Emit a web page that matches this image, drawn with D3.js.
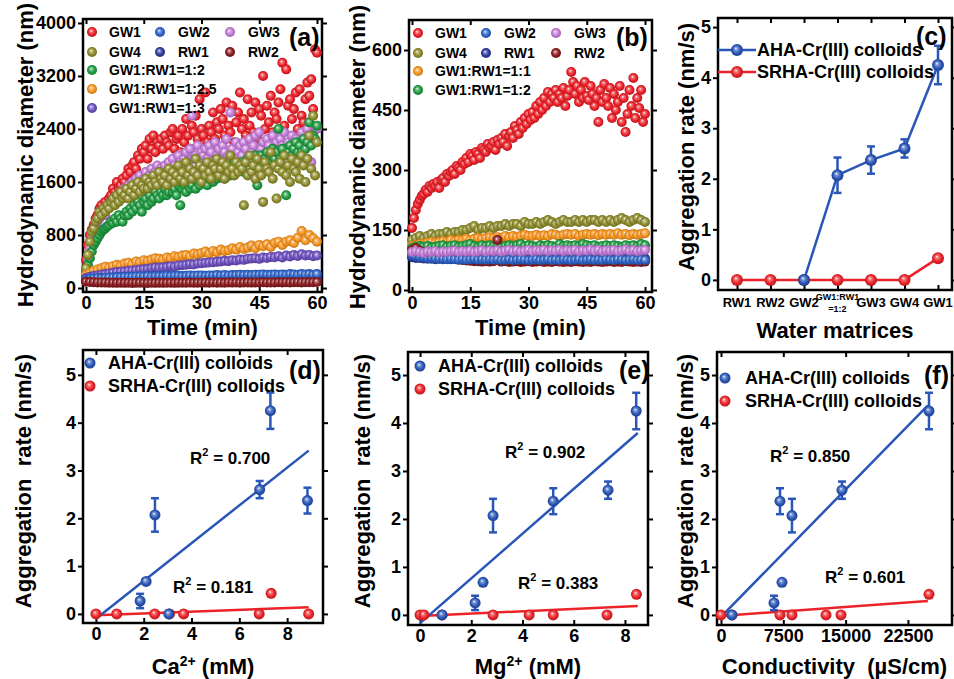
<!DOCTYPE html>
<html><head><meta charset="utf-8"><title>Cr(III) colloid aggregation</title>
<script src="https://cdn.jsdelivr.net/npm/d3@7"></script>
<style>
body{margin:0;background:#fff}
text{font-family:"Liberation Sans",Arial,sans-serif;font-weight:bold;fill:#000}
</style></head><body>
<script>
// ---------- data ----------
// time grids (min)
const tHalf = d3.range(0, 60.001, 0.5);
const tMin = d3.range(0, 61, 1);

// (a) hydrodynamic diameter, nm
const aGW1 = [420,650,800,880,950,1050,1100,1200,1250,1150,1300,
 1250,1350,1400,1500,1450,1600,1500,1550,1650,1600,
 1700,1800,1750,1850,1900,1800,2000,1950,2100,2050,
 2150,1950,2250,2100,2300,2050,2200,2150,2250,2100,
 2300,2200,2150,2350,2400,2100,2250,2300,2050,2400,
 2200,2550,2300,2100,2450,2350,2600,2250,2850,2400,
 2300,2950,2200,2450,2350,2650,2250,2500,2400,2700,
 2550,2300,2800,2450,2350,2750,2200,2500,2650,2950,
 2400,2550,2300,2850,2450,2650,2350,2800,2250,2700,
 2600,3200,2400,2750,2500,2900,2350,2650,2550,2800,
 3000,3400,2450,3300,2750,2850,2550,2700,2950,2400,
 3000,2600,2500,2850,3100,2900,3150,2700,3600,3550];
const aGW4 = [300,500,700,850,900,1000,1050,1150,1100,1200,1150,
 1250,1200,1300,1350,1250,1400,1300,1450,1350,1400,
 1500,1350,1450,1550,1400,1500,1600,1450,1550,1500,
 1650,1500,1600,1550,1700,1600,1550,1750,1650,1600,
 1700,1550,1800,1650,1750,1600,1700,1850,1650,1750,
 1600,1900,1700,1800,1650,1750,1950,1700,1850,1600,
 1800,1700,1900,1750,1650,1850,1800,1950,1700,1800,
 1900,1650,1850,1750,2000,1800,1700,1900,1750,1850,
 1800,1250,1900,1700,2000,1750,1850,1650,1950,1800,
 1700,1300,1900,1800,1750,2050,1650,1850,1350,1800,
 1900,1750,2000,1700,1850,1600,1950,1800,1750,1900,
 1650,2000,1850,1600,1950,2300,1800,2600,1700,2200];
const aGW3 = [280,450,600,750,850,950,1000,1050,1100,1150,1100,
 1200,1250,1300,1250,1350,1400,1350,1450,1400,1500,
 1450,1550,1500,1600,1500,1650,1550,1700,1600,1650,
 1750,1600,1700,1800,1650,1750,1850,1700,1800,1750,
 1850,1750,1900,1800,1950,1850,1800,2000,1900,1850,
 1950,2050,1900,2100,2600,1950,2000,2150,1900,2050,
 2000,2100,1950,2150,2050,1900,2200,2000,2100,1950,
 2150,2050,2250,2000,2650,2100,1900,2200,2050,2150,
 2000,2200,2100,1950,2250,2050,2150,2300,2000,2350,
 2100,2200,2000,2250,2150,2050,2300,2100,2200,2050,
 2250,2150,2350,2000,2200,2100,2300,2050,2250,2150,
 2200,2350,2100,2250,2400,2150,1900,2300,2200,2400];
const aMix12 = [250,350,450,550,650,700,750,800,850,880,900,
 930,950,1000,980,1050,1000,1100,1050,1000,1100,
 1150,1100,1200,1150,1250,1200,1300,1250,1150,1300,
 1350,1250,1400,1300,1350,1450,1400,1350,1450,1400,
 1500,1400,1450,1550,1450,1500,1400,1550,1250,1500,
 1550,1450,1600,1500,1550,1650,1500,1600,1550,1650,
 1600,1700,1550,1650,1750,1600,1700,1650,1750,1700,
 1800,1650,1750,1850,1700,1800,1900,1750,1850,1800,
 1900,1750,1850,1950,1800,1900,1850,2000,1550,1900,
 2000,1850,1950,2050,1900,2000,2100,1950,2050,2400,
 1950,2100,2000,1400,2050,2150,2000,2100,2200,2050,
 2150,2050,2250,2100,2200,2500,2150,2300,2250,2450];
const aMix25 = [200,230,260,280,300,320,310,330,350,340,370,
 380,360,400,390,420,410,430,450,440,430,
 460,450,480,470,490,500,480,520,510,530,
 550,520,560,540,580,560,570,600,580,620,
 590,610,640,600,650,630,660,620,680,700,
 650,700,720,680,760,860,720,800,750,700];
const aMix3 = [150,170,180,190,200,210,220,230,240,245,250,
 260,265,270,280,285,290,300,310,305,315,
 320,330,325,340,345,350,360,355,370,375,
 380,385,390,395,400,410,405,420,415,430,
 425,440,445,450,440,460,455,470,465,480,
 460,490,475,500,485,510,490,500,480,490];
const aGW2 = [130,140,145,150,150,155,160,160,165,165,170,
 170,170,175,175,175,180,175,180,180,180,
 185,180,185,185,180,185,190,185,190,190,
 185,190,190,195,190,195,190,195,195,200,
 195,200,195,200,200,205,200,200,205,200,
 205,200,210,205,200,210,205,210,200,210];
const aRW1 = [120,125,130,128,130,132,130,128,132,130,134,
 130,132,135,130,133,135,132,130,134,136,
 132,135,133,136,134,132,136,135,133,137,
 135,133,136,138,134,136,137,135,138,136,
 134,137,139,136,138,135,137,140,136,138,
 137,139,136,140,138,137,139,141,138,140];
const aRW2 = [95,90,88,85,84,82,80,80,78,80,78,
 79,77,78,80,78,77,79,78,80,78,
 79,80,78,81,79,80,82,79,81,80,
 82,80,83,81,82,80,83,82,84,81,
 83,85,82,84,83,86,84,85,83,86,
 85,87,84,86,88,85,87,86,88,90];

// (b) hydrodynamic diameter, nm
const bGW1 = [155,180,200,215,225,235,240,250,245,260,255,
 265,260,270,255,275,280,270,290,285,295,
 300,290,310,305,300,320,315,330,320,340,
 335,325,345,340,330,355,350,345,365,355,
 360,370,350,375,365,380,370,390,360,385,
 395,380,410,400,390,420,405,430,415,440,
 425,445,430,460,440,470,450,480,460,495,
 470,490,480,500,470,490,480,505,460,485,
 500,545,520,490,510,470,500,480,520,485,
 475,510,490,460,480,420,500,470,515,480,
 460,505,430,490,450,470,510,420,480,395,
 440,500,460,530,430,480,455,500,420,440];
const bGW4 = [125,130,135,130,135,140,135,140,140,145,140,
 145,145,150,150,155,160,150,155,155,160,
 155,160,160,165,160,165,165,160,170,165,
 165,170,165,170,175,170,165,170,175,170,
 170,175,170,175,170,175,175,170,175,170,
 175,170,175,180,175,170,175,180,175,170];
const bMix11 = [110,112,115,115,118,120,118,120,122,120,125,
 122,125,125,128,125,128,130,128,130,132,
 130,132,130,135,132,135,133,135,138,135,
 135,138,135,137,135,140,138,135,138,140,
 138,140,135,138,140,138,140,137,140,138,
 140,138,142,138,140,137,140,138,140,142];
const bMix12 = [105,108,110,108,110,106,108,110,112,108,110,
 112,108,110,112,115,110,108,112,110,112,
 110,112,108,110,112,110,112,115,110,112,
 110,108,112,110,112,110,108,115,110,112,
 110,112,110,115,112,110,112,108,110,112,
 110,112,110,108,112,110,112,110,115,112];
const bGW3 = [95,97,95,93,96,95,97,94,96,95,97,
 98,95,97,96,98,95,97,99,96,98,
 97,99,96,98,100,97,99,96,98,100,
 97,99,98,100,97,99,98,100,97,99,
 98,100,97,99,98,101,98,100,97,99,
 98,100,97,99,101,98,100,97,99,100];
const bGW2 = [88,85,83,82,80,80,79,78,78,77,78,
 77,76,77,76,77,78,76,77,76,77,
 76,77,75,76,77,75,76,77,76,75,
 76,77,75,76,77,75,76,75,77,76,
 75,76,77,75,76,77,75,76,75,77,
 76,75,77,76,75,76,77,75,76,75];
const bRW1 = [82,80,80,79,78,78,77,78,77,78,77,
 78,77,78,79,78,77,78,77,78,79,
 78,77,78,79,78,77,78,79,78,77,
 78,79,78,77,78,79,78,77,78,79,
 78,77,78,79,78,77,78,79,78,77,
 78,79,78,77,78,79,78,77,78,79];
const bRW2 = [100,105,98,95,92,90,88,85,84,82,80,
 78,76,75,74,73,72,72,71,72,71,
 72,125,71,72,70,71,72,70,71,72,
 70,71,72,70,71,70,72,71,70,71,
 70,72,71,70,71,70,72,71,70,71,
 72,70,71,70,72,71,70,71,70,71];

// (c) aggregation rate by water matrix, nm/s
const matrices = ['RW1','RW2','GW2','GW1:RW1=1:2','GW3','GW4','GW1'];
const cAHA = [null,null,0,2.07,2.37,2.6,4.25];
const cAHAerr = [0,0,0.03,0.35,0.27,0.18,0.38];
const cSRHA = [0,0,0,0,0,0,0.43];
const cSRHAerr = [0.03,0.03,0.03,0.03,0.03,0.03,0.07];

// (d) vs Ca2+ (mM)
const caAHAx = [1.85,2.1,2.47,3.05,6.85,7.3,8.85];
const caAHAy = [0.27,0.68,2.07,0,2.6,4.25,2.37];
const caAHAe = [0.15,0.04,0.35,0.05,0.18,0.38,0.27];
const caSRx = [0,0.87,2.46,3.08,3.67,6.83,7.33,8.9];
const caSRy = [0,0,0,0,0,0,0.43,0];
const caFit = {AHA:[-0.1,0.395,0,8.9], SRHA:[-0.03,0.019,0,8.9]};   // intercept, slope, x0, x1

// (e) vs Mg2+ (mM)
const mgAHAx = [0.86,2.15,2.46,2.85,5.2,7.34,8.44];
const mgAHAy = [0,0.25,0.68,2.07,2.37,2.6,4.25];
const mgAHAe = [0.05,0.15,0.04,0.35,0.27,0.18,0.38];
const mgSRx = [0,0.15,0.86,2.85,4.26,5.2,7.3,8.45];
const mgSRy = [0,0,0,0,0,0,0,0.43];
const mgFit = {AHA:[-0.17,0.466,0,8.5], SRHA:[-0.02,0.024,0,8.5]};

// (f) vs conductivity (uS/cm)
const ecAHAx = [1320,6380,7100,7340,8540,14560,25030];
const ecAHAy = [0,0.25,2.37,0.68,2.07,2.6,4.25];
const ecAHAe = [0.05,0.15,0.27,0.04,0.35,0.18,0.38];
const ecSRx = [0,1320,7100,8540,12640,14440,25030];
const ecSRy = [0,0,0,0,0,0,0.43];
const ecFit = {AHA:[-0.04,0.000177,0,24900], SRHA:[-0.02,0.0000125,0,24900]};

const R2 = {d:['0.700','0.181'], e:['0.902','0.383'], f:['0.850','0.601']};

// ---------- setup ----------
const col = {GW1:'#ec1f27', GW2:'#2c63c9', GW3:'#c37ad7', GW4:'#8c8b2a', RW1:'#2d3a9e',
  RW2:'#8b1a1e', mix12:'#1d9a3f', mix25:'#f7931d', mix3:'#6d4fc0', mix11:'#f7931d',
  AHA:'#2a56b8', SRHA:'#ec2328'};

const svg = d3.select('body').append('svg').attr('width', 954).attr('height', 679);
const defs = svg.append('defs');
Object.entries(col).forEach(([k, c]) => {
  const g = defs.append('radialGradient').attr('id', 'sp-' + k)
    .attr('cx', '50%').attr('cy', '50%').attr('r', '55%').attr('fx', '40%').attr('fy', '36%');
  g.append('stop').attr('offset', '0%').attr('stop-color', '#fff');
  g.append('stop').attr('offset', '22%').attr('stop-color', d3.interpolateRgb(c, '#fff')(0.4));
  g.append('stop').attr('offset', '62%').attr('stop-color', c);
  g.append('stop').attr('offset', '100%').attr('stop-color', d3.color(c).darker(0.9));
});

function styleTicks(sel, size) {
  sel.select('.domain').remove();
  sel.selectAll('line').attr('stroke', '#000').attr('stroke-width', 2);
  sel.selectAll('text').attr('font-size', size).attr('font-family', null).attr('fill', '#000');
}

const fmt = d3.format('d');
function panel(p) {
  const x = p.xScale || d3.scaleLinear().domain(p.xd).range([p.l, p.r]);
  const y = d3.scaleLinear().domain(p.yd).range([p.b, p.t]);
  const g = svg.append('g');
  g.append('g').attr('transform', `translate(${p.l},0)`)
    .call(d3.axisLeft(y).tickValues(p.yt).tickSize(5).tickPadding(2).tickSizeOuter(0).tickFormat(fmt))
    .call(styleTicks, p.fs || 18);
  g.append('g').attr('transform', `translate(${p.r},0)`)
    .call(d3.axisLeft(y).tickValues(p.yt).tickSize(-5).tickFormat('').tickSizeOuter(0))
    .call(styleTicks, 0);
  const bx = d3.axisBottom(x).tickSize(-5).tickPadding(4).tickSizeOuter(0);
  if (p.xt) bx.tickValues(p.xt).tickFormat(fmt);
  if (p.noXLabels) bx.tickFormat('');
  g.append('g').attr('transform', `translate(0,${p.b})`).call(bx).call(styleTicks, p.fs || 18);
  const tx = d3.axisBottom(x).tickSize(5).tickFormat('').tickSizeOuter(0);
  if (p.xt) tx.tickValues(p.xt);
  g.append('g').attr('transform', `translate(0,${p.t})`).call(tx).call(styleTicks, 0);
  g.append('rect').attr('x', p.l).attr('y', p.t).attr('width', p.r - p.l).attr('height', p.b - p.t)
    .attr('fill', 'none').attr('stroke', '#000').attr('stroke-width', 2.5);
  const plot = svg.append('g');
  // titles
  svg.append('text').attr('x', (p.l + p.r) / 2 + (p.xtdx || 0)).attr('y', p.xty)
    .attr('text-anchor', 'middle').attr('font-size', 22).html(p.xtitle);
  svg.append('text').attr('transform', `translate(${p.ytx},${p.yty}) rotate(-90)`)
    .attr('text-anchor', 'middle').attr('dominant-baseline', 'central').attr('font-size', 22)
    .attr('xml:space', 'preserve').text(p.ytitle);
  svg.append('text').attr('x', p.labx).attr('y', p.laby).attr('dominant-baseline', 'central')
    .attr('font-size', 25).text(p.label);
  return {x, y, g: plot};
}

// ---------- (a) ----------
const A = panel({l: 83, r: 322, t: 19, b: 292, xd: [-0.78, 61.3], yd: [-60, 4060],
  xt: [0, 15, 30, 45, 60], yt: [0, 800, 1600, 2400, 3200, 4000],
  xtitle: 'Time (min)', xty: 335, ytitle: 'Hydrodynamic diameter (nm)', ytx: 25, yty: 155,
  label: '(a)', labx: 289, laby: 37});
const B = panel({l: 409, r: 652, t: 20, b: 292, xd: [-0.77, 61.8], yd: [-5, 675],
  xt: [0, 15, 30, 45, 60], yt: [0, 150, 300, 450, 600],
  xtitle: 'Time (min)', xty: 335, ytitle: 'Hydrodynamic diameter (nm)', ytx: 357, yty: 157,
  label: '(b)', labx: 616, laby: 37});

function scatter(P, list) {
  list.forEach(s => {
    const t = s.v.length === tHalf.length ? tHalf : tMin;
    P.g.append('g').selectAll('circle').data(s.v).join('circle')
      .attr('cx', (d, i) => P.x(t[i])).attr('cy', d => P.y(d)).attr('r', 5)
      .attr('fill', `url(#sp-${s.k})`);
  });
}
function dlsLegend(P, items, l, t) {
  const cx = [9, 77, 147], tx = [26, 95, 165], ry = [13, 33, 51, 70, 89];
  items.forEach((s, i) => {
    const c = i < 6 ? i % 3 : 0, r = i < 6 ? Math.floor(i / 3) : i - 4;
    P.g.append('circle').attr('cx', l + cx[c]).attr('cy', t + ry[r]).attr('r', 5)
      .attr('fill', `url(#sp-${s.k})`);
    P.g.append('text').attr('x', l + tx[c]).attr('y', t + ry[r]).attr('dy', '0.36em')
      .attr('font-size', 14).text(s.name);
  });
}
scatter(A, [{k: 'GW1', v: aGW1}, {k: 'GW3', v: aGW3}, {k: 'mix12', v: aMix12}, {k: 'GW4', v: aGW4},
  {k: 'mix25', v: aMix25}, {k: 'mix3', v: aMix3}, {k: 'RW1', v: aRW1}, {k: 'GW2', v: aGW2}, {k: 'RW2', v: aRW2}]);
dlsLegend(A, [{k: 'GW1', name: 'GW1'}, {k: 'GW2', name: 'GW2'}, {k: 'GW3', name: 'GW3'},
  {k: 'GW4', name: 'GW4'}, {k: 'RW1', name: 'RW1'}, {k: 'RW2', name: 'RW2'},
  {k: 'mix12', name: 'GW1:RW1=1:2'}, {k: 'mix25', name: 'GW1:RW1=1:2.5'}, {k: 'mix3', name: 'GW1:RW1=1:3'}], 83, 19);

scatter(B, [{k: 'GW4', v: bGW4}, {k: 'mix11', v: bMix11}, {k: 'mix12', v: bMix12}, {k: 'RW2', v: bRW2},
  {k: 'RW1', v: bRW1}, {k: 'GW2', v: bGW2}, {k: 'GW3', v: bGW3}, {k: 'GW1', v: bGW1}]);
dlsLegend(B, [{k: 'GW1', name: 'GW1'}, {k: 'GW2', name: 'GW2'}, {k: 'GW3', name: 'GW3'},
  {k: 'GW4', name: 'GW4'}, {k: 'RW1', name: 'RW1'}, {k: 'RW2', name: 'RW2'},
  {k: 'mix11', name: 'GW1:RW1=1:1'}, {k: 'mix12', name: 'GW1:RW1=1:2'}], 409, 20);

// ---------- (c) ----------
const cx = d3.scalePoint().domain(matrices).range([737, 938]);
const C = panel({l: 718, r: 952, t: 18, b: 290, xScale: cx, yd: [-0.2, 5.18], yt: [0, 1, 2, 3, 4, 5],
  noXLabels: true, xtitle: 'Water matrices', xty: 338, ytitle: 'Aggregation rate (nm/s)', ytx: 686, yty: 147,
  label: '(c)', labx: 916, laby: 36});
matrices.forEach(m => {
  if (m.includes(':')) {
    C.g.append('text').attr('x', cx(m)).attr('y', 300).attr('text-anchor', 'middle').attr('font-size', 9).text('GW1:RW1');
    C.g.append('text').attr('x', cx(m)).attr('y', 312).attr('text-anchor', 'middle').attr('font-size', 9).text('=1:2');
  } else {
    C.g.append('text').attr('x', cx(m)).attr('y', 307).attr('text-anchor', 'middle').attr('font-size', 13).text(m);
  }
});

function errBars(P, xs, ys, es, c) {
  const g = P.g.append('g').attr('stroke', c).attr('stroke-width', 2.5);
  xs.forEach((xv, i) => {
    if (ys[i] == null || es[i] < 0.08) return;
    const px = P.x(xv);
    g.append('line').attr('x1', px).attr('x2', px).attr('y1', P.y(ys[i] - es[i])).attr('y2', P.y(ys[i] + es[i]));
    [ys[i] - es[i], ys[i] + es[i]].forEach(v => g.append('line').attr('x1', px - 4).attr('x2', px + 4)
      .attr('y1', P.y(v)).attr('y2', P.y(v)));
  });
}
function dots(P, xs, ys, k, r) {
  P.g.append('g').selectAll('circle').data(xs.map((xv, i) => [xv, ys[i]]).filter(d => d[1] != null))
    .join('circle').attr('cx', d => P.x(d[0])).attr('cy', d => P.y(d[1])).attr('r', r)
    .attr('fill', `url(#sp-${k})`);
}

const line = d3.line().defined(d => d[1] != null).x(d => cx(d[0])).y(d => C.y(d[1]));
C.g.append('path').attr('d', line(matrices.map((m, i) => [m, cSRHA[i]])))
  .attr('fill', 'none').attr('stroke', col.SRHA).attr('stroke-width', 2.5);
errBars(C, matrices, cSRHA, cSRHAerr, col.SRHA);
dots(C, matrices, cSRHA, 'SRHA', 6);
C.g.append('path').attr('d', line(matrices.map((m, i) => [m, cAHA[i]])))
  .attr('fill', 'none').attr('stroke', col.AHA).attr('stroke-width', 2.5);
errBars(C, matrices, cAHA, cAHAerr, col.AHA);
dots(C, matrices, cAHA, 'AHA', 6);
[['AHA', 'AHA-Cr(III) colloids', 50], ['SRHA', 'SRHA-Cr(III) colloids', 72]].forEach(([k, name, yy]) => {
  C.g.append('line').attr('x1', 718).attr('x2', 756).attr('y1', yy).attr('y2', yy)
    .attr('stroke', col[k]).attr('stroke-width', 2.5);
  C.g.append('circle').attr('cx', 737).attr('cy', yy).attr('r', 6).attr('fill', `url(#sp-${k})`);
  C.g.append('text').attr('x', 757).attr('y', yy).attr('dy', '0.36em').attr('font-size', 18).text(name);
});

// ---------- (d)(e)(f) ----------
function ratePanel(p, d) {
  const P = panel(Object.assign({yd: p.yd, yt: [0, 1, 2, 3, 4, 5], ytitle: 'Aggregation  rate (nm/s)', xty: 674, yty: 481}, p));
  ['SRHA', 'AHA'].forEach(k => {
    const f = d.fit[k];
    P.g.append('line').attr('x1', P.x(f[2])).attr('x2', P.x(f[3]))
      .attr('y1', P.y(f[0] + f[1] * f[2])).attr('y2', P.y(f[0] + f[1] * f[3]))
      .attr('stroke', col[k]).attr('stroke-width', 2.5);
  });
  dots(P, d.srx, d.sry, 'SRHA', 5.5);
  errBars(P, d.ax, d.ay, d.ae, col.AHA);
  dots(P, d.ax, d.ay, 'AHA', 5.5);
  [['AHA', 'AHA-Cr(III) colloids'], ['SRHA', 'SRHA-Cr(III) colloids']].forEach(([k, name], i) => {
    const yy = p.t + p.legY[i];
    P.g.append('circle').attr('cx', p.l + p.legX[0]).attr('cy', yy).attr('r', 5.5).attr('fill', `url(#sp-${k})`);
    P.g.append('text').attr('x', p.l + p.legX[1]).attr('y', yy).attr('dy', '0.36em').attr('font-size', 18).text(name);
  });
  d.r2pos.forEach((q, i) => {
    const t = P.g.append('text').attr('x', q[0]).attr('y', q[1]).attr('dy', '0.36em').attr('font-size', 17);
    t.append('tspan').text('R');
    t.append('tspan').attr('font-size', 11).attr('dy', '-0.7em').text('2');
    t.append('tspan').attr('dy', '0.45em').text(' = ' + d.r2[i]);
  });
}
ratePanel({l: 83, r: 323, t: 350, b: 623, xd: [-0.54, 9.5], yd: [-0.19, 5.52], xt: [0, 2, 4, 6, 8],
  xtitle: 'Ca<tspan font-size="14" dy="-8">2+</tspan><tspan dy="8"> (mM)</tspan>', ytx: 23,
  label: '(d)', labx: 289, laby: 370, legX: [7, 25], legY: [13, 36]},
  {ax: caAHAx, ay: caAHAy, ae: caAHAe, srx: caSRx, sry: caSRy, fit: caFit, r2: R2.d,
   r2pos: [[190, 458], [173, 587]]});
ratePanel({l: 408, r: 648, t: 352, b: 625, xd: [-0.47, 8.9], yd: [-0.21, 5.48], xt: [0, 2, 4, 6, 8],
  xtitle: 'Mg<tspan font-size="14" dy="-8">2+</tspan><tspan dy="8"> (mM)</tspan>', ytx: 362,
  label: '(e)', labx: 619, laby: 370, legX: [12, 30], legY: [14, 37]},
  {ax: mgAHAx, ay: mgAHAy, ae: mgAHAe, srx: mgSRx, sry: mgSRy, fit: mgFit, r2: R2.e,
   r2pos: [[505, 452], [518, 583]]});
ratePanel({l: 717, r: 952, t: 352, b: 625, xd: [-480, 27800], yd: [-0.21, 5.48], xt: [0, 7500, 15000, 22500],
  xtitle: 'Conductivity&#160;&#160;(µS/cm)', ytx: 685,
  label: '(f)', labx: 924, laby: 375, legX: [8, 28], legY: [26, 49]},
  {ax: ecAHAx, ay: ecAHAy, ae: ecAHAe, srx: ecSRx, sry: ecSRy, fit: ecFit, r2: R2.f,
   r2pos: [[770, 456], [825, 577]]});
</script>
</body></html>
